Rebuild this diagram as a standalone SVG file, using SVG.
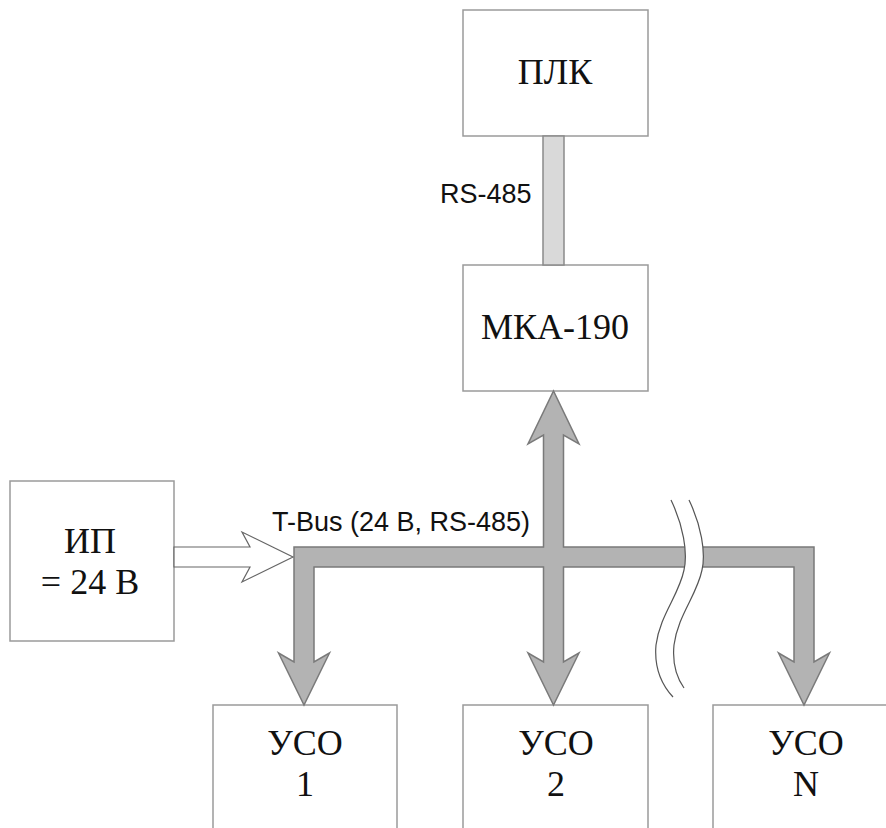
<svg xmlns="http://www.w3.org/2000/svg" width="886" height="828" viewBox="0 0 886 828">
<style>
.box{fill:#fff;stroke:#9a9a9a;stroke-width:1.5}
.lbl{font-family:"Liberation Serif","Times New Roman",serif;font-size:36px;fill:#111;text-anchor:middle}
.sans{font-family:"Liberation Sans",Arial,sans-serif;font-size:27px;fill:#111}
.bus{fill:#b3b3b3;stroke:#7a7a7a;stroke-width:1.5;stroke-linejoin:miter}
.brk{fill:none;stroke:#555;stroke-width:1.2}
</style>
<rect width="886" height="828" fill="#fff"/>
<g id="plc">
<rect class="box" x="463" y="10" width="185" height="126"/>
<text class="lbl" x="555" y="84">ПЛК</text>
</g>
<g id="mka190">
<rect class="box" x="463" y="265" width="185" height="126"/>
<text class="lbl" x="555" y="339">МКА-190</text>
</g>
<g id="ip">
<rect class="box" x="10" y="481" width="164" height="160"/>
<text class="lbl" x="90" y="553">ИП</text>
<text class="lbl" x="90" y="594">= 24 В</text>
</g>
<g id="uso1">
<rect class="box" x="213" y="705" width="184" height="140"/>
<text class="lbl" x="305" y="755">УСО</text>
<text class="lbl" x="305" y="796">1</text>
</g>
<g id="uso2">
<rect class="box" x="463" y="705" width="185" height="140"/>
<text class="lbl" x="556" y="755">УСО</text>
<text class="lbl" x="556" y="796">2</text>
</g>
<g id="usoN">
<rect class="box" x="713" y="705" width="200" height="140"/>
<text class="lbl" x="806" y="755">УСО</text>
<text class="lbl" x="806" y="796">N</text>
</g>
<g id="connectors">
<rect x="543" y="136" width="21" height="129" fill="#d9d9d9" stroke="#8a8a8a" stroke-width="1.5"/>
<text class="sans" x="440" y="203">RS-485</text>
<path class="bus" d="M294,547 L543.5,547 L543.5,435 L528,444 L553.5,391 L579,444 L563.5,435 L563.5,547 L814,547 L814,662 L829.5,653 L804,705 L778.5,653 L794,662 L794,567 L563.5,567 L563.5,662 L579,653 L553.5,705 L528,653 L543.5,662 L543.5,567 L314,567 L314,662 L329.5,653 L304,705 L278.5,653 L294,662 Z"/>
<path d="M174,547 L250,547 L242,532 L293,557 L242,582 L250,567 L174,567 Z" fill="#fff" stroke="#666" stroke-width="1.2"/>
<text class="sans" x="272" y="531">T-Bus (24 В, RS-485)</text>
<path d="M671,500 C683,525 688,552 684,570 C679,595 660,615 656,645 C654,668 662,685 673,697 L684,688 C677,678 672,665 674,645 C678,615 697,595 702,570 C706,552 701,525 689,500 Z" fill="#fff"/>
<path class="brk" d="M671,500 C683,525 688,552 684,570 C679,595 660,615 656,645 C654,668 662,685 673,697"/>
<path class="brk" d="M689,500 C701,525 706,552 702,570 C697,595 678,615 674,645 C672,665 677,678 684,688"/>
</g>
</svg>
